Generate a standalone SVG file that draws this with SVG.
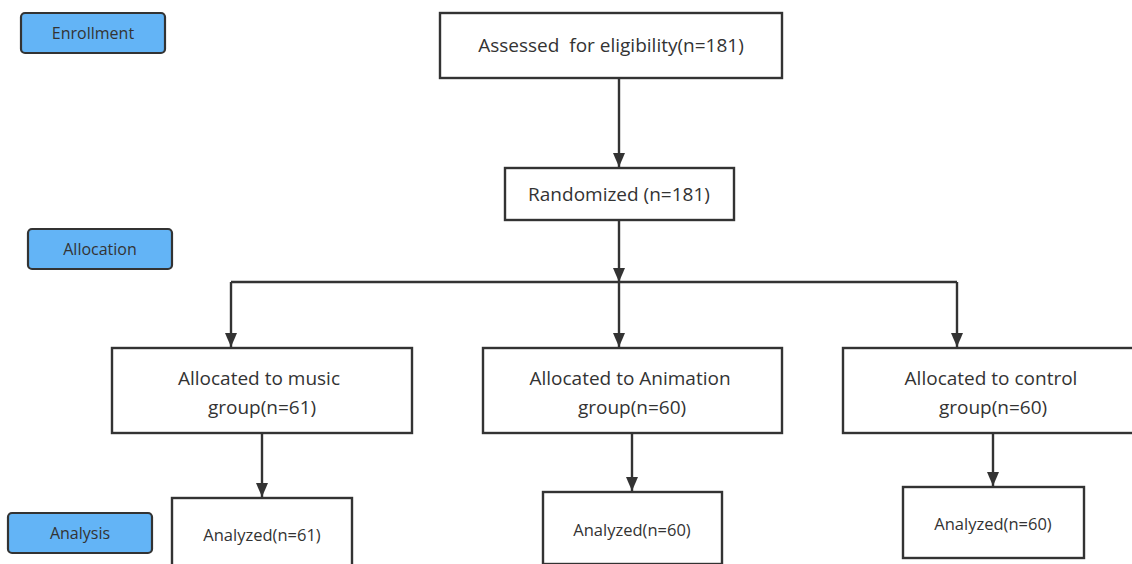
<svg xmlns="http://www.w3.org/2000/svg" width="1132" height="564" viewBox="0 0 1132 564">
<defs>
<marker id="ah" markerWidth="14" markerHeight="12" refX="14" refY="6" orient="auto" markerUnits="userSpaceOnUse" viewBox="0 0 14 12">
<path d="M0,0 L14,6 L0,12 Z" fill="#333"/>
</marker>
<style>
.lbl{fill:#63b4f6;stroke:#333;stroke-width:2.2}
.box{fill:#fff;stroke:#333;stroke-width:2.4}
.t{font-family:"Open Sans","Noto Sans",sans-serif;fill:#333;text-anchor:middle;dominant-baseline:central}
.c{fill:none;stroke:#333;stroke-width:2.4}
</style>
</defs>
<rect width="1132" height="564" fill="#fff"/>
<g id="enrollment"><rect class="lbl" x="21" y="13" width="144" height="40" rx="4"/><text class="t" x="93" y="33" font-size="16">Enrollment</text></g>
<g id="allocation"><rect class="lbl" x="28" y="229" width="144" height="40" rx="4"/><text class="t" x="100" y="249" font-size="16">Allocation</text></g>
<g id="analysis"><rect class="lbl" x="8" y="513" width="144" height="40" rx="4"/><text class="t" x="80" y="533" font-size="16">Analysis</text></g>
<g id="assessed"><rect class="box" x="440" y="13" width="342" height="65"/><text class="t" x="611" y="45" font-size="19" xml:space="preserve">Assessed  for eligibility(n=181)</text></g>
<g id="randomized"><rect class="box" x="505" y="168" width="229" height="52"/><text class="t" x="619" y="194" font-size="19">Randomized (n=181)</text></g>
<g id="music"><rect class="box" x="112" y="348" width="300" height="85"/><text class="t" x="259" y="378" font-size="19">Allocated to music</text><text class="t" x="262" y="407" font-size="19">group(n=61)</text></g>
<g id="animation"><rect class="box" x="483" y="348" width="299" height="85"/><text class="t" x="630" y="378" font-size="19">Allocated to Animation</text><text class="t" x="632" y="407" font-size="19">group(n=60)</text></g>
<g id="control"><rect class="box" x="843" y="348" width="292" height="85"/><text class="t" x="991" y="378" font-size="19">Allocated to control</text><text class="t" x="993" y="407" font-size="19">group(n=60)</text></g>
<g id="an-music"><rect class="box" x="172" y="498" width="180" height="70"/><text class="t" x="262" y="534" font-size="16.5">Analyzed(n=61)</text></g>
<g id="an-animation"><rect class="box" x="543" y="492" width="179" height="72"/><text class="t" x="632" y="529" font-size="16.5">Analyzed(n=60)</text></g>
<g id="an-control"><rect class="box" x="903" y="487" width="181" height="71"/><text class="t" x="993" y="523" font-size="16.5">Analyzed(n=60)</text></g>
<g id="connectors">
<path class="c" d="M619,79 V167" marker-end="url(#ah)"/>
<path class="c" d="M619,220 V282" marker-end="url(#ah)"/>
<path class="c" d="M231,282 H957"/>
<path class="c" d="M231,282 V347" marker-end="url(#ah)"/>
<path class="c" d="M619,282 V347" marker-end="url(#ah)"/>
<path class="c" d="M957,282 V347" marker-end="url(#ah)"/>
<path class="c" d="M262,433 V497" marker-end="url(#ah)"/>
<path class="c" d="M632,433 V491" marker-end="url(#ah)"/>
<path class="c" d="M993,433 V486" marker-end="url(#ah)"/>
</g>
</svg>
